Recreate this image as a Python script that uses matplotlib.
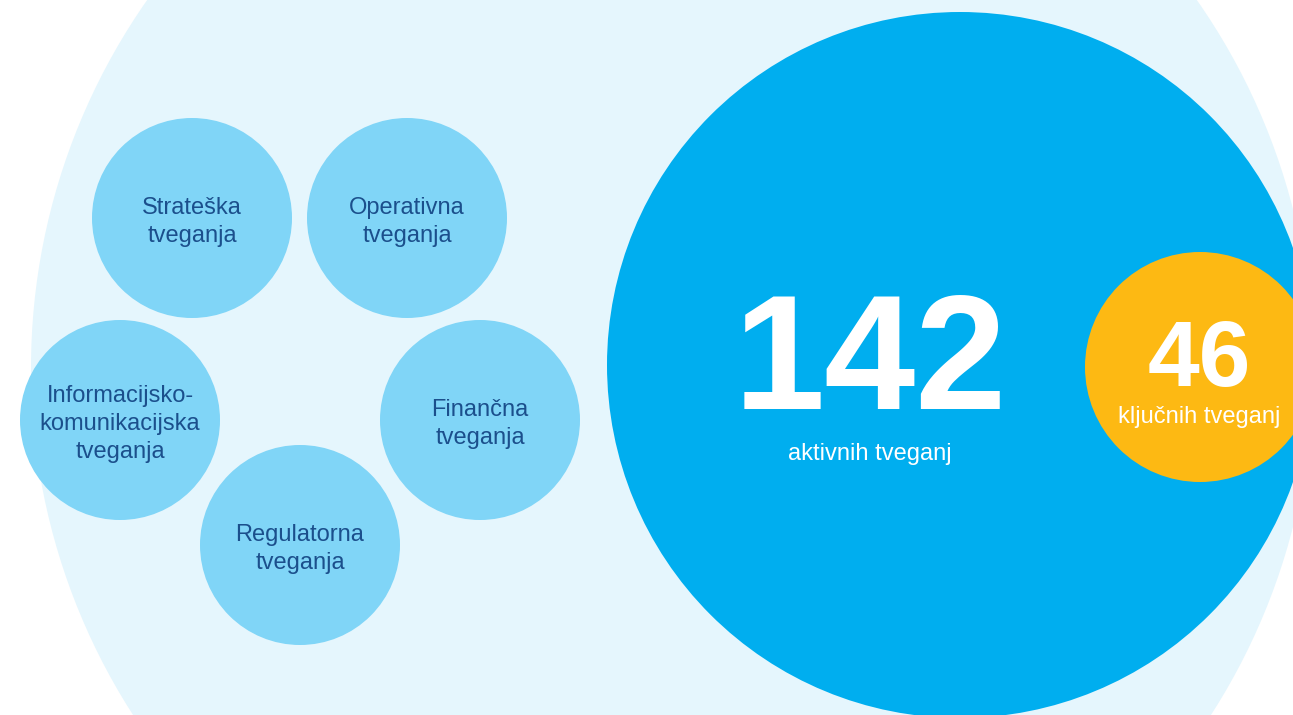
import matplotlib.pyplot as plt
from matplotlib.patches import Circle

plt.rcParams['font.family'] = ['Liberation Sans', 'DejaVu Sans']

# risk categories (small circles)
categories = ["Strateška\ntveganja", "Operativna\ntveganja",
              "Informacijsko-\nkomunikacijska\ntveganja",
              "Finančna\ntveganja", "Regulatorna\ntveganja"]
cat_x = [192, 407, 120, 480, 300]
cat_y = [218, 218, 420, 420, 545]
cat_r = 100

# totals
active_count = 142
active_label = "aktivnih tveganj"
key_count = 46
key_label = "ključnih tveganj"

W, H = 1293, 715
fig = plt.figure(figsize=(W / 100, H / 100), dpi=100)
ax = fig.add_axes([0, 0, 1, 1])
ax.set_xlim(0, W)
ax.set_ylim(H, 0)
ax.set_aspect('equal')
ax.axis('off')

light = "#e5f6fd"
small = "#80d5f7"
blue = "#00aeef"
orange = "#fdb913"
navy = "#1b4f8c"

# big background circle
ax.add_patch(Circle((672, 368), 641, color=light, lw=0))

for label, x, y in zip(categories, cat_x, cat_y):
    ax.add_patch(Circle((x, y), cat_r, color=small, lw=0))
    ax.text(x, y + 4, label, ha='center', va='center', color=navy,
            fontsize=17, linespacing=1.33, multialignment='center')

# active risks
ax.add_patch(Circle((960, 365), 353, color=blue, lw=0))
ax.text(870, 409, str(active_count), ha='center', va='baseline', color='white',
        fontsize=118, fontweight='bold')
ax.text(870, 460, active_label, ha='center', va='baseline', color='white',
        fontsize=17)

# key risks
ax.add_patch(Circle((1200, 367), 115, color=orange, lw=0))
ax.text(1199, 386, str(key_count), ha='center', va='baseline', color='white',
        fontsize=67, fontweight='bold')
ax.text(1199, 423, key_label, ha='center', va='baseline', color='white',
        fontsize=17)

fig.savefig("out.png", dpi=100)
